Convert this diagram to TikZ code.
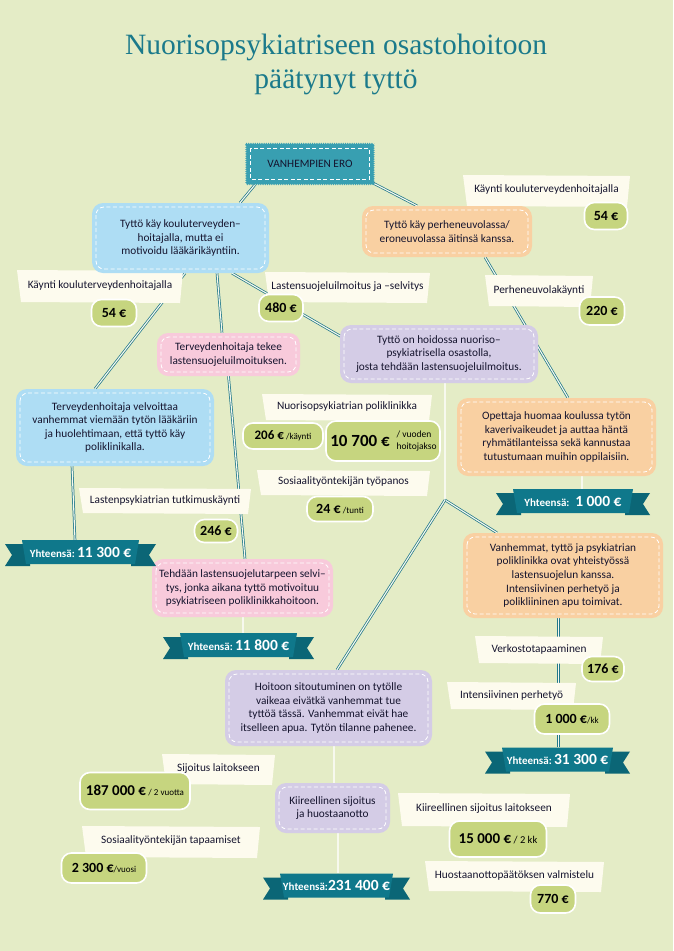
\documentclass[tikz,border=0pt]{standalone}
\usepackage{fontspec}
\setmainfont{Carlito}
\newfontfamily\titlefont{Liberation Serif}
\usetikzlibrary{decorations.pathmorphing,calc}
\pgfdeclarelayer{bg}
\pgfdeclarelayer{lines}
\pgfsetlayers{bg,lines,main}
\definecolor{bgcol}{HTML}{E4ECC6}
\definecolor{titlecol}{HTML}{1B7A8B}
\definecolor{txt}{HTML}{15142E}
\definecolor{erocol}{HTML}{389FB1}
\definecolor{bluebox}{HTML}{AEDDF4}
\definecolor{peach}{HTML}{F9D0A2}
\definecolor{pinkbox}{HTML}{F8CADB}
\definecolor{lavender}{HTML}{D4CCE6}
\definecolor{cream}{HTML}{FDFBEE}
\definecolor{badgecol}{HTML}{C6D57F}
\definecolor{ribboncol}{HTML}{0F788B}
\definecolor{ribbondark}{HTML}{0B6676}
\definecolor{linecol}{HTML}{22798A}
\definecolor{greenline}{HTML}{4E9A3A}
\definecolor{lavline}{HTML}{9A90C0}
\tikzset{
  box/.style={rounded corners=11pt, align=center, text=txt, inner sep=2pt,
    font=\fontsize{11.3}{13.6}\selectfont,
    path picture={\draw[white, line width=0.8pt, dash pattern=on 4pt off 2.5pt, rounded corners=8pt]
      ([shift={(4pt,-4pt)}]path picture bounding box.north west) rectangle
      ([shift={(-4pt,4pt)}]path picture bounding box.south east);}},
  erobox/.style={fill=erocol, text=txt, font=\fontsize{11.3}{13}\selectfont,
    decorate, decoration={zigzag, segment length=2.2pt, amplitude=0.8pt}},
  lbltext/.style={text=txt, font=\fontsize{11.3}{13}\selectfont, inner sep=1pt},
  badge/.style={fill=badgecol, draw=white, line width=1.6pt, rounded corners=10pt, text=black,
    inner sep=1pt, font=\fontsize{14}{14}\selectfont\bfseries},
  ribtext/.style={text=white, inner sep=0pt, minimum height=24pt},
  conn/.style={draw=linecol, double=white!70!bgcol, double distance=1.1pt, line width=0.75pt},
  conngreen/.style={draw=greenline, double=white!70!bgcol, double distance=1.1pt, line width=0.75pt},
  connlav/.style={draw=lavline, double=white!70!bgcol, double distance=1.1pt, line width=0.75pt},
}
\newcommand\lbl[6]{%
  \fill[cream] (#2,#3) -- (#4,#3+1) -- (#4-3,#5) -- (#2+4,#5-1) -- cycle;
  \node[lbltext] (#1) at ({(#2+#4)/2},{(#3+#5)/2-1}) {#6};}
\newcommand\ribbon[5]{%
  \fill[ribbondark] (#2-#4-17,#3-8) -- (#2-#4+8,#3-8) -- (#2-#4+8,#3+14) -- (#2-#4-17,#3+14) -- (#2-#4-10,#3+3) -- cycle;
  \fill[ribbondark] (#2+#4+17,#3-8) -- (#2+#4-8,#3-8) -- (#2+#4-8,#3+14) -- (#2+#4+17,#3+14) -- (#2+#4+10,#3+3) -- cycle;
  \fill[ribboncol] (#2-#4,#3-12) -- (#2+#4,#3-12) -- (#2+#4-4,#3+12) -- (#2-#4+4,#3+12) -- cycle;
  \node[ribtext, minimum width={2*#4 pt}] (#1) at (#2,#3) {#5};}
\newcommand\ytot[1]{{\fontsize{11}{11}\selectfont\bfseries Yhteensä:}\ {\fontsize{15.5}{15.5}\selectfont\bfseries #1}}
\newcommand\sfx[1]{{\fontsize{9}{9}\selectfont\mdseries #1}}
\begin{document}
\begin{tikzpicture}[x=1pt,y=-1pt]
\begin{pgfonlayer}{bg}
\fill[bgcol] (0,0) rectangle (673,951);
\end{pgfonlayer}
\useasboundingbox (0,0) rectangle (673,951);

% title
\node[font=\titlefont\fontsize{29.5}{34}\selectfont, text=titlecol, align=center] (title) at (336,64)
  {Nuorisopsykiatriseen osastohoitoon\\päätynyt tyttö};

% labels
\lbl{lblA}{463}{175}{630}{207}{Käynti kouluterveydenhoitajalla}
\lbl{lblB}{17}{270}{183}{303}{Käynti kouluterveydenhoitajalla}
\lbl{lblC}{265}{272}{430}{303}{Lastensuojeluilmoitus ja –selvitys}
\lbl{lblD}{485}{275}{593}{307}{Perheneuvolakäynti}
\lbl{lblE}{262}{394}{432}{421}{Nuorisopsykiatrian poliklinikka}
\lbl{lblF}{257}{470}{430}{496}{Sosiaalityöntekijän työpanos}
\lbl{lblG}{79}{488}{251}{514}{Lastenpsykiatrian tutkimuskäynti}
\lbl{lblH}{475}{636}{603}{664}{Verkostotapaaminen}
\lbl{lblI}{447}{682}{576}{710}{Intensiivinen perhetyö}
\lbl{lblJ}{162}{754}{275}{785}{Sijoitus laitokseen}
\lbl{lblK}{82}{826}{260}{858}{Sosiaalityöntekijän tapaamiset}
\lbl{lblL}{398}{793}{570}{827}{Kiireellinen sijoitus laitokseen}
\lbl{lblM}{425}{861}{604}{892}{Huostaanottopäätöksen valmistelu}

% badges
\node[badge, minimum width=43pt, minimum height=27pt] (b54r) at (606,216) {54 €};
\node[badge, minimum width=45pt, minimum height=28pt] (b220) at (602,311) {220 €};
\node[badge, minimum width=45pt, minimum height=27pt] (b54l) at (114,313) {54 €};
\node[badge, minimum width=44pt, minimum height=27pt] (b480) at (281,308) {480 €};
\node[badge, minimum width=80pt, minimum height=26pt, font=\fontsize{13}{13}\selectfont\bfseries] (b206) at (283,436) {206 €\,\sfx{/käynti}};
\node[badge, minimum width=114pt, minimum height=40pt] (b10700) at (383,441) {};
\node[font=\fontsize{17}{17}\selectfont\bfseries, text=black, inner sep=0pt] (b10700n)
  at ([xshift=-23pt]b10700.center) {10 700 €};
\node[font=\fontsize{9.5}{12}\selectfont, text=black, align=left, inner sep=0pt, anchor=east] (b10700s)
  at ([xshift=-4pt]b10700.east) {/ vuoden\\hoitojakso};
\node[badge, minimum width=66pt, minimum height=25pt] (b24) at (340,509) {24 €\,\sfx{/tunti}};
\node[badge, minimum width=43pt, minimum height=23pt] (b246) at (216,531) {246 €};
\node[badge, minimum width=42pt, minimum height=25pt] (b176) at (603,669) {176 €};
\node[badge, minimum width=75pt, minimum height=30pt] (b1000) at (572,719) {1 000 €\sfx{/kk}};
\node[badge, minimum width=110pt, minimum height=37pt, font=\fontsize{15}{15}\selectfont\bfseries] (b187) at (135,791) {187 000 €\,\sfx{/ 2 vuotta}};
\node[badge, minimum width=85pt, minimum height=30pt] (b2300) at (104,868) {2 300 €\sfx{/vuosi}};
\node[badge, minimum width=97pt, minimum height=36pt, font=\fontsize{15}{15}\selectfont\bfseries] (b15000) at (498,839) {15 000 €\,{\fontsize{10.5}{10.5}\selectfont\mdseries / 2 kk}};
\node[badge, minimum width=45pt, minimum height=28pt] (b770) at (553,899) {770 €};

% boxes
\node[erobox, minimum width=128pt, minimum height=41pt] (ero) at (310,164) {VANHEMPIEN ERO};
\draw[white, line width=0.9pt, dash pattern=on 4pt off 2.5pt]
  ([shift={(5pt,-5pt)}]ero.north west) rectangle ([shift={(-5pt,5pt)}]ero.south east);
\node[box, fill=bluebox, minimum width=177pt, minimum height=70pt] (blue1) at (180.5,238)
  {Tyttö käy kouluterveyden–\\hoitajalla, mutta ei\\motivoidu lääkärikäyntiin.};
\node[box, fill=peach, minimum width=170pt, minimum height=51pt] (orange1) at (447,231.5)
  {Tyttö käy perheneuvolassa/\\eroneuvolassa äitinsä kanssa.};
\node[box, fill=pinkbox, minimum width=143pt, minimum height=43pt] (pink1) at (228.5,354.5)
  {Terveydenhoitaja tekee\\lastensuojeluilmoituksen.};
\node[box, fill=lavender, minimum width=198pt, minimum height=58pt] (purple1) at (439,354)
  {Tyttö on hoidossa nuoriso–\\psykiatrisella osastolla,\\josta tehdään lastensuojeluilmoitus.};
\node[box, fill=bluebox, minimum width=198pt, minimum height=77pt] (blue2) at (115,427.5)
  {Terveydenhoitaja velvoittaa\\vanhemmat viemään tytön lääkäriin\\ja huolehtimaan, että tyttö käy\\poliklinikalla.};
\node[box, fill=peach, minimum width=199pt, minimum height=78pt] (orange2) at (556.5,437)
  {Opettaja huomaa koulussa tytön\\kaverivaikeudet ja auttaa häntä\\ryhmätilanteissa sekä kannustaa\\tutustumaan muihin oppilaisiin.};
\node[box, fill=pinkbox, minimum width=181pt, minimum height=58pt] (pink2) at (242.5,588)
  {Tehdään lastensuojelutarpeen selvi–\\tys, jonka aikana tyttö motivoituu\\psykiatriseen poliklinikkahoitoon.};
\node[box, fill=peach, minimum width=200pt, minimum height=85pt] (orange3) at (563,575.5)
  {Vanhemmat, tyttö ja psykiatrian\\poliklinikka ovat yhteistyössä\\lastensuojelun kanssa.\\Intensiivinen perhetyö ja\\polikliininen apu toimivat.};
\node[box, fill=lavender, minimum width=207pt, minimum height=76pt] (purple2) at (328.5,708)
  {Hoitoon sitoutuminen on tytölle\\vaikeaa eivätkä vanhemmat tue\\tyttöä tässä. Vanhemmat eivät hae\\itselleen apua. Tytön tilanne pahenee.};
\node[box, fill=lavender, minimum width=115pt, minimum height=50pt] (purple3) at (332.5,808)
  {Kiireellinen sijoitus\\ja huostaanotto};

% ribbons
\ribbon{r1000}{573}{501}{60}{\ytot{\ 1 000 €}}
\ribbon{r11300}{80.5}{552}{58.5}{\ytot{11 300 €}}
\ribbon{r11800}{238.5}{645}{58.5}{\ytot{11 800 €}}
\ribbon{r31300}{557.5}{759.5}{55.5}{\ytot{31 300 €}}
\ribbon{r231400}{336.5}{885.5}{56.5}{{\fontsize{11}{11}\selectfont\bfseries Yhteensä:}{\fontsize{15.5}{15.5}\selectfont\bfseries 231 400 €}}

% connectors
\coordinate (br) at (445,500);
\begin{pgfonlayer}{lines}
\draw[conn] ([xshift=-55pt]ero.south) -- ([xshift=59.5pt]blue1.north);
\draw[conn] ([shift={(-7pt,-16pt)}]ero.east) -- ([xshift=-30pt]orange1.north);
\draw[conn] ([xshift=38pt]orange1.south) -- ([xshift=11.5pt]orange2.north);
\draw[conngreen] ([xshift=25.5pt]orange2.south) -- ([xshift=9pt]r1000.north);
\draw[conn] ([xshift=4.5pt]blue1.south) -- ([xshift=-20pt]blue2.north);
\draw[conn] ([xshift=36.5pt]blue1.south) -- ([xshift=-6.5pt]pink1.north);
\draw[conn] (pink1.south) -- ([xshift=2.5pt]pink2.north);
\draw[conn] ([xshift=51.5pt]blue1.south) -- ([shift={(2pt,17pt)}]purple1.west);
\draw[conn] ([xshift=-43pt]blue2.south) -- ([xshift=-5.5pt]r11300.north);
\draw[connlav] ([xshift=0.5pt]pink2.south) -- ([xshift=4.5pt]r11800.north);
\draw[conn] ([xshift=6pt]purple1.south) -- (br);
\draw[conn] (br) -- ([xshift=-66pt]orange3.north);
\draw[conn] (br) -- ([xshift=8.5pt]purple2.north);
\draw[conn] ([xshift=5.5pt]purple2.south) -- ([xshift=1.5pt]purple3.north);
\draw[conn] ([xshift=5.5pt]purple3.south) -- ([xshift=1.5pt]r231400.north);
\draw[conn] ([xshift=-4.5pt]orange3.south) -- ([xshift=1pt]r31300.north);
\end{pgfonlayer}
\end{tikzpicture}
\end{document}
